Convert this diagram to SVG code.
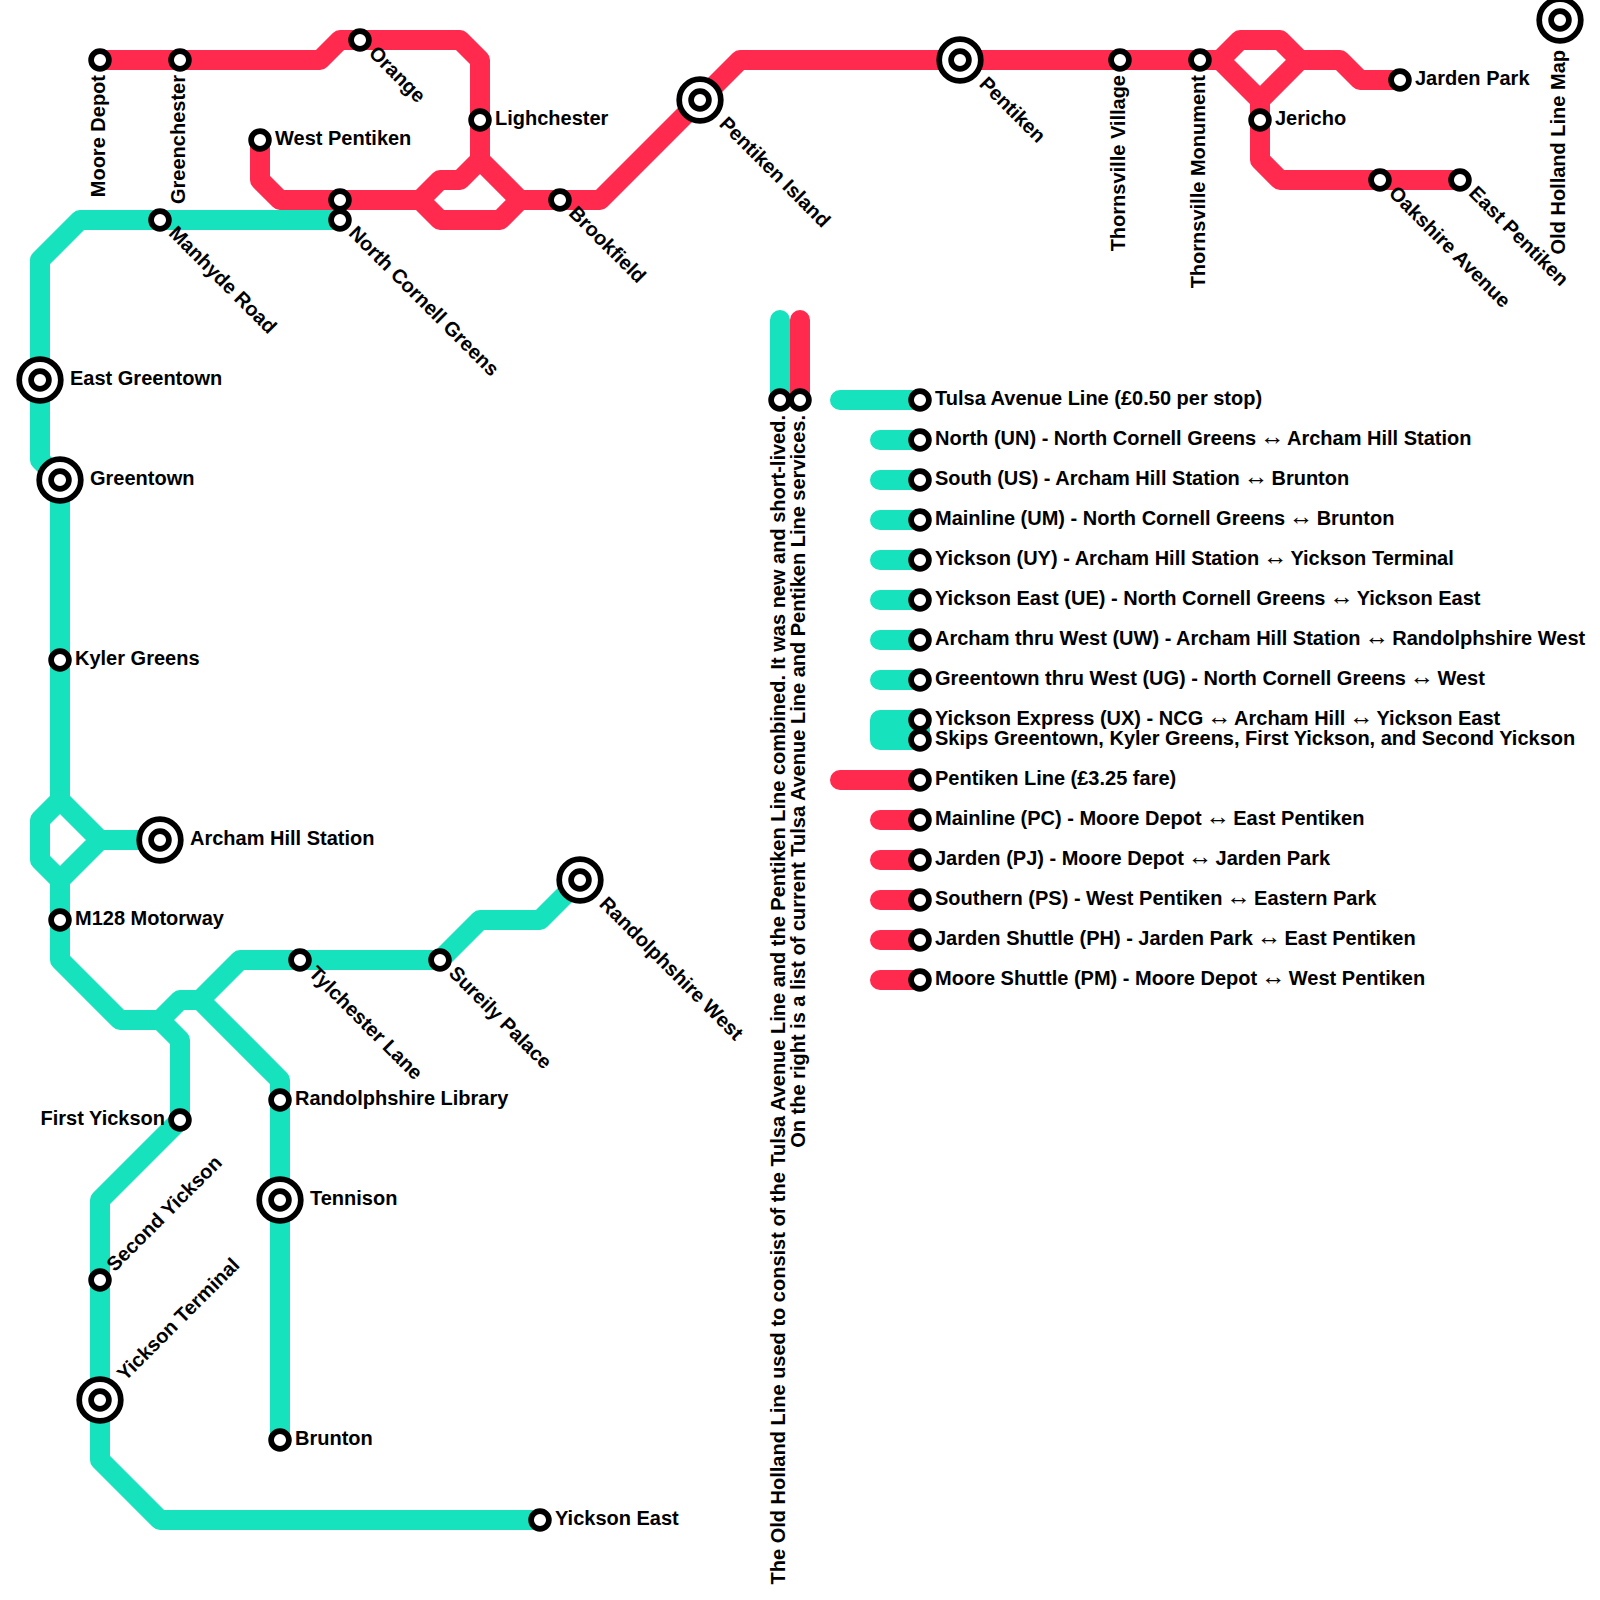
<svg xmlns="http://www.w3.org/2000/svg" width="1600" height="1600" viewBox="0 0 1600 1600">
<style>
.l{fill:none;stroke-width:20;stroke-linejoin:round;stroke-linecap:round}
.t{stroke:#16e2bd}.r{stroke:#ff2a4d}
.s{fill:#fff;stroke:#000;stroke-width:5.7}
.b{fill:#fff;stroke:#000;stroke-width:5.7}
text{font-family:"Liberation Sans",Arial,"DejaVu Sans",sans-serif;font-weight:700;font-size:20px;fill:#000}
.e{text-anchor:end}
.a{font-weight:400;font-size:25px;letter-spacing:-2.5px}
</style>
<defs>
<g id="sm"><circle class="s" r="8.9"/></g>
<g id="bg"><circle class="b" r="20.8"/><circle class="s" r="8.9"/></g>
</defs>
<rect width="1600" height="1600" fill="#fff"/>
<g id="connectors">
<path class="l t" d="M340 220H80L40 260V460L60 480V800L40 820V860L60 880V960L120 1020H160L180 1000H200L240 960H440L480 920H540L580 880"/>
<path class="l t" d="M60 800L100 840H160M100 840L60 880"/>
<path class="l t" d="M160 1020L180 1040V1120L100 1200V1460L160 1520H540"/>
<path class="l t" d="M200 1000L280 1080V1440"/>
<path class="l r" d="M100 60H320L340 40H460L480 60V160L520 200H600L740 60H1220"/>
<path class="l r" d="M480 160L460 180H440L420 200M260 140V180L280 200H420L440 220H500L520 200"/>
<path class="l r" d="M1220 60L1240 40H1280L1300 60H1340L1360 80H1400M1220 60L1260 100V160L1280 180H1460M1300 60L1260 100"/>
<path class="l t" d="M780 320V400M840 400H920M880 440H920M880 480H920M880 520H920M880 560H920M880 600H920M880 640H920M880 680H920M880 720V740H920V720Z"/>
<path class="l r" d="M800 320V400M840 780H920M880 820H920M880 860H920M880 900H920M880 940H920M880 980H920"/>
</g>
<g id="n-moore-depot" transform="translate(100 60)"><use href="#sm"/><text transform="rotate(-90)" class="e" x="-15" y="5">Moore Depot</text></g>
<g id="n-greenchester" transform="translate(180 60)"><use href="#sm"/><text transform="rotate(-90)" class="e" x="-15" y="5">Greenchester</text></g>
<g id="n-orange" transform="translate(360 40)"><use href="#sm"/><text transform="rotate(45)" x="15.6" y="4.6">Orange</text></g>
<g id="n-lighchester" transform="translate(480 120)"><use href="#sm"/><text x="15" y="5">Lighchester</text></g>
<g id="n-west-pentiken" transform="translate(260 140)"><use href="#sm"/><text x="15" y="5">West Pentiken</text></g>
<g id="n-ncg-red" transform="translate(340 200)"><use href="#sm"/></g>
<g id="n-north-cornell-greens" transform="translate(340 220)"><use href="#sm"/><text transform="rotate(45)" x="15.6" y="4.6">North Cornell Greens</text></g>
<g id="n-manhyde-road" transform="translate(160 220)"><use href="#sm"/><text transform="rotate(45)" x="15.6" y="4.6">Manhyde Road</text></g>
<g id="n-brookfield" transform="translate(560 200)"><use href="#sm"/><text transform="rotate(45)" x="15.6" y="4.6">Brookfield</text></g>
<g id="n-pentiken-island" transform="translate(700 100)"><use href="#bg"/><text transform="rotate(45)" x="30.6" y="4.6">Pentiken Island</text></g>
<g id="n-pentiken" transform="translate(960 60)"><use href="#bg"/><text transform="rotate(45)" x="30.6" y="4.6">Pentiken</text></g>
<g id="n-thornsville-village" transform="translate(1120 60)"><use href="#sm"/><text transform="rotate(-90)" class="e" x="-15" y="5">Thornsville Village</text></g>
<g id="n-thornsville-monument" transform="translate(1200 60)"><use href="#sm"/><text transform="rotate(-90)" class="e" x="-15" y="5">Thornsville Monument</text></g>
<g id="n-jericho" transform="translate(1260 120)"><use href="#sm"/><text x="15" y="5">Jericho</text></g>
<g id="n-jarden-park" transform="translate(1400 80)"><use href="#sm"/><text x="15" y="5">Jarden Park</text></g>
<g id="n-oakshire-avenue" transform="translate(1380 180)"><use href="#sm"/><text transform="rotate(45)" x="15.6" y="4.6">Oakshire Avenue</text></g>
<g id="n-east-pentiken" transform="translate(1460 180)"><use href="#sm"/><text transform="rotate(45)" x="15.6" y="4.6">East Pentiken</text></g>
<g id="n-map" transform="translate(1560 20)"><use href="#bg"/><text transform="rotate(-90)" class="e" x="-30" y="5">Old Holland Line Map</text></g>
<g id="n-east-greentown" transform="translate(40 380)"><use href="#bg"/><text x="30" y="5">East Greentown</text></g>
<g id="n-greentown" transform="translate(60 480)"><use href="#bg"/><text x="30" y="5">Greentown</text></g>
<g id="n-kyler-greens" transform="translate(60 660)"><use href="#sm"/><text x="15" y="5">Kyler Greens</text></g>
<g id="n-archam-hill" transform="translate(160 840)"><use href="#bg"/><text x="30" y="5">Archam Hill Station</text></g>
<g id="n-m128" transform="translate(60 920)"><use href="#sm"/><text x="15" y="5">M128 Motorway</text></g>
<g id="n-tylchester" transform="translate(300 960)"><use href="#sm"/><text transform="rotate(45)" x="15.6" y="4.6">Tylchester Lane</text></g>
<g id="n-sureily" transform="translate(440 960)"><use href="#sm"/><text transform="rotate(45)" x="15.6" y="4.6">Sureily Palace</text></g>
<g id="n-randolphshire-west" transform="translate(580 880)"><use href="#bg"/><text transform="rotate(45)" x="30.6" y="4.6">Randolphshire West</text></g>
<g id="n-randolphshire-library" transform="translate(280 1100)"><use href="#sm"/><text x="15" y="5">Randolphshire Library</text></g>
<g id="n-first-yickson" transform="translate(180 1120)"><use href="#sm"/><text class="e" x="-15" y="5">First Yickson</text></g>
<g id="n-tennison" transform="translate(280 1200)"><use href="#bg"/><text x="30" y="5">Tennison</text></g>
<g id="n-second-yickson" transform="translate(100 1280)"><use href="#sm"/><text transform="rotate(-45)" x="15.7" y="5">Second Yickson</text></g>
<g id="n-yickson-terminal" transform="translate(100 1400)"><use href="#bg"/><text transform="rotate(-45)" x="30.7" y="5">Yickson Terminal</text></g>
<g id="n-brunton" transform="translate(280 1440)"><use href="#sm"/><text x="15" y="5">Brunton</text></g>
<g id="n-yickson-east" transform="translate(540 1520)"><use href="#sm"/><text x="15" y="5">Yickson East</text></g>
<g id="k-note1" transform="translate(780 400)"><use href="#sm"/><text transform="rotate(-90)" class="e" x="-15" y="5">The Old Holland Line used to consist of the Tulsa Avenue Line and the Pentiken Line combined. It was new and short-lived.</text></g>
<g id="k-note2" transform="translate(800 400)"><use href="#sm"/><text transform="rotate(-90)" class="e" x="-15" y="5">On the right is a list of current Tulsa Avenue Line and Pentiken Line services.</text></g>
<g id="k-tulsa" transform="translate(920 400)"><use href="#sm"/><text x="15" y="5">Tulsa Avenue Line (£0.50 per stop)</text></g>
<g id="k-un" transform="translate(920 440)"><use href="#sm"/><text x="15" y="5">North (UN) - North Cornell Greens <tspan class="a" dx="-2">↔</tspan> Archam Hill Station</text></g>
<g id="k-us" transform="translate(920 480)"><use href="#sm"/><text x="15" y="5">South (US) - Archam Hill Station <tspan class="a" dx="-2">↔</tspan> Brunton</text></g>
<g id="k-um" transform="translate(920 520)"><use href="#sm"/><text x="15" y="5">Mainline (UM) - North Cornell Greens <tspan class="a" dx="-2">↔</tspan> Brunton</text></g>
<g id="k-uy" transform="translate(920 560)"><use href="#sm"/><text x="15" y="5">Yickson (UY) - Archam Hill Station <tspan class="a" dx="-2">↔</tspan> Yickson Terminal</text></g>
<g id="k-ue" transform="translate(920 600)"><use href="#sm"/><text x="15" y="5">Yickson East (UE) - North Cornell Greens <tspan class="a" dx="-2">↔</tspan> Yickson East</text></g>
<g id="k-uw" transform="translate(920 640)"><use href="#sm"/><text x="15" y="5">Archam thru West (UW) - Archam Hill Station <tspan class="a" dx="-2">↔</tspan> Randolphshire West</text></g>
<g id="k-ug" transform="translate(920 680)"><use href="#sm"/><text x="15" y="5">Greentown thru West (UG) - North Cornell Greens <tspan class="a" dx="-2">↔</tspan> West</text></g>
<g id="k-ux" transform="translate(920 720)"><use href="#sm"/><text x="15" y="5">Yickson Express (UX) - NCG <tspan class="a" dx="-2">↔</tspan> Archam Hill <tspan class="a" dx="-2">↔</tspan> Yickson East</text></g>
<g id="k-ux2" transform="translate(920 740)"><use href="#sm"/><text x="15" y="5">Skips Greentown, Kyler Greens, First Yickson, and Second Yickson</text></g>
<g id="k-pentiken" transform="translate(920 780)"><use href="#sm"/><text x="15" y="5">Pentiken Line (£3.25 fare)</text></g>
<g id="k-pc" transform="translate(920 820)"><use href="#sm"/><text x="15" y="5">Mainline (PC) - Moore Depot <tspan class="a" dx="-2">↔</tspan> East Pentiken</text></g>
<g id="k-pj" transform="translate(920 860)"><use href="#sm"/><text x="15" y="5">Jarden (PJ) - Moore Depot <tspan class="a" dx="-2">↔</tspan> Jarden Park</text></g>
<g id="k-ps" transform="translate(920 900)"><use href="#sm"/><text x="15" y="5">Southern (PS) - West Pentiken <tspan class="a" dx="-2">↔</tspan> Eastern Park</text></g>
<g id="k-ph" transform="translate(920 940)"><use href="#sm"/><text x="15" y="5">Jarden Shuttle (PH) - Jarden Park <tspan class="a" dx="-2">↔</tspan> East Pentiken</text></g>
<g id="k-pm" transform="translate(920 980)"><use href="#sm"/><text x="15" y="5">Moore Shuttle (PM) - Moore Depot <tspan class="a" dx="-2">↔</tspan> West Pentiken</text></g>
</svg>
